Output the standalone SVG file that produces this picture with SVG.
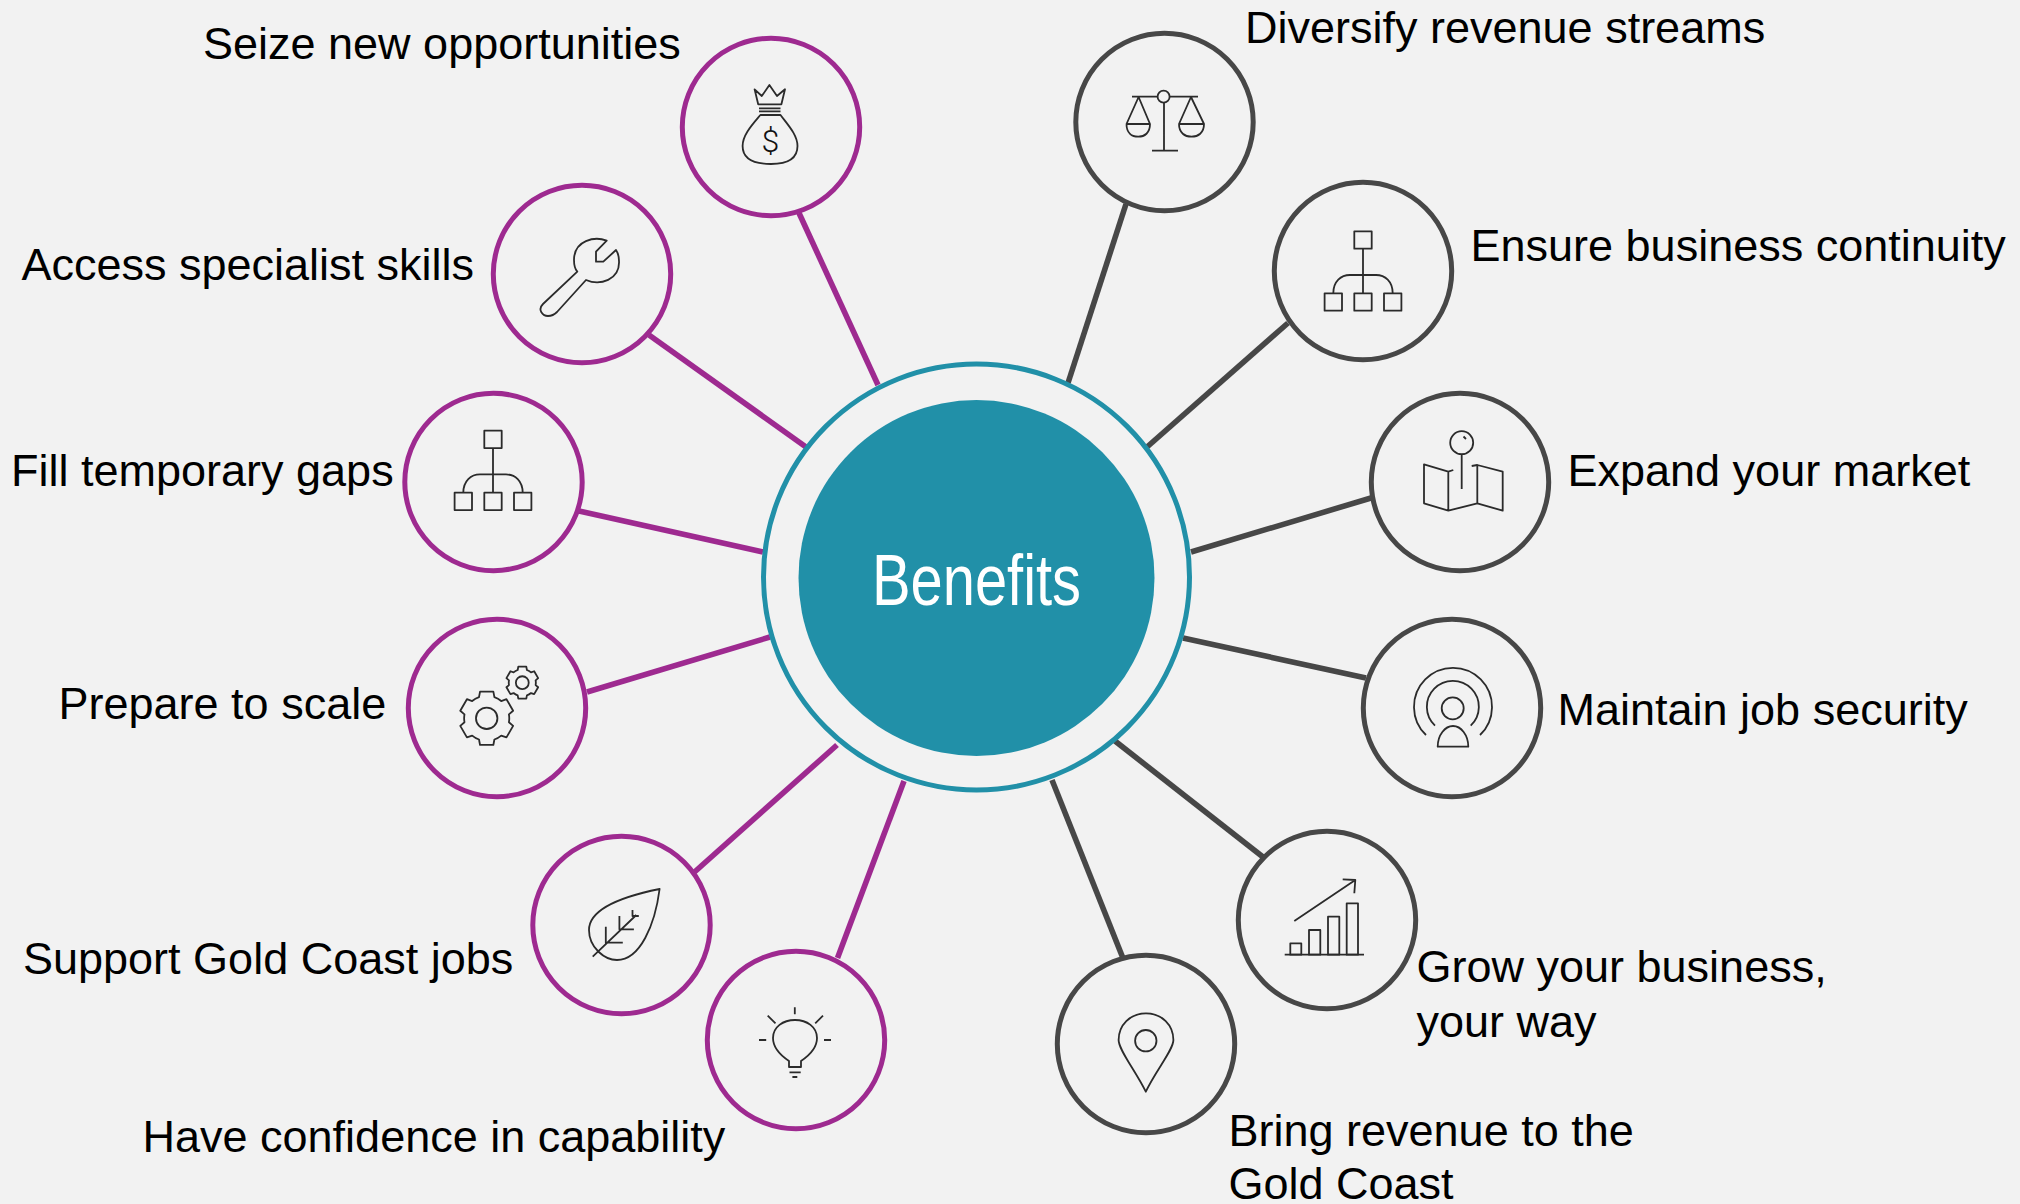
<svg xmlns="http://www.w3.org/2000/svg" xmlns:xlink="http://www.w3.org/1999/xlink" width="2020" height="1204" viewBox="0 0 2020 1204">
<style>
.lbl{font-family:"Liberation Sans",Arial,sans-serif;font-size:45px;fill:#000}
.p{fill:none;stroke:#9E2A90;stroke-width:5}
.g{fill:none;stroke:#474747;stroke-width:5}
#connectors line{stroke-width:5.6}
.ico{fill:none;stroke:#2b2b2b;stroke-width:1.8;stroke-linejoin:round}
.ico *{vector-effect:non-scaling-stroke}
</style>
<defs>
<g id="org"><rect x="-8.7" y="0" width="17.4" height="17.4"/><path d="M0 17.4V62M-29.7 62C-29.7 50-22 43.7-13 43.7H13C22 43.7 29.7 50 29.7 62"/><rect x="-38.4" y="62" width="17.4" height="17.4"/><rect x="-8.7" y="62" width="17.4" height="17.4"/><rect x="21" y="62" width="17.4" height="17.4"/></g>
<g id="gear"><path vector-effect="non-scaling-stroke" d="M-28 -77.1L-24.2 -97L24.2 -97L28 -77.1A82 82 0 0 1 52.8 -62.8L71.9 -69.5L96.1 -27.5L80.8 -14.4A82 82 0 0 1 80.8 14.4L96.1 27.5L71.9 69.5L52.8 62.8A82 82 0 0 1 28 77.1L24.2 97L-24.2 97L-28 77.1A82 82 0 0 1 -52.8 62.8L-71.9 69.5L-96.1 27.5L-80.8 14.4A82 82 0 0 1 -80.8 -14.4L-96.1 -27.5L-71.9 -69.5L-52.8 -62.8A82 82 0 0 1 -28 -77.1Z"/><circle vector-effect="non-scaling-stroke" r="39"/></g>
</defs>
<rect width="2020" height="1204" fill="#F2F2F2"/>
<g id="connectors">
<line class="p" x1="799" y1="213" x2="878" y2="385"/>
<line class="p" x1="649" y1="335" x2="806" y2="447"/>
<line class="p" x1="579" y1="511" x2="763" y2="552"/>
<line class="p" x1="587" y1="692" x2="770" y2="637"/>
<line class="p" x1="694.5" y1="872" x2="837" y2="745"/>
<line class="p" x1="837.5" y1="958" x2="904" y2="781"/>
<line class="g" x1="1126" y1="204" x2="1068" y2="383"/>
<line class="g" x1="1288" y1="323" x2="1147" y2="447"/>
<line class="g" x1="1371" y1="498" x2="1191" y2="552"/>
<line class="g" x1="1366" y1="678" x2="1183" y2="638"/>
<line class="g" x1="1263" y1="857" x2="1115" y2="741"/>
<line class="g" x1="1122.5" y1="957" x2="1052" y2="780"/>
</g>
<g id="benefits">
<circle cx="976.5" cy="577" r="213" fill="none" stroke="#2190A8" stroke-width="5"/>
<circle cx="976.5" cy="578" r="178" fill="#2190A8"/>
<text x="976.5" y="605" text-anchor="middle" font-family="'Liberation Sans',Arial,sans-serif" font-size="72" fill="#fff" textLength="209" lengthAdjust="spacingAndGlyphs">Benefits</text>
</g>
<g id="seize">
<circle class="p" cx="771" cy="127" r="88.7"/>
<g class="ico"><path d="M754.6 89.3L761.8 96L769.4 85L777 96L785 89.3L781.4 104.3H758.2Z"/><path d="M759 108.3H780.5M759 111.3H780.5"/><path d="M760.4 115H780.5C788 125 797.5 135 797.5 146C797.5 158 788 164 771 164C752 164 742.6 158 742.6 146C742.6 135 752 125 760.4 115Z"/></g>
<text x="770.4" y="152" text-anchor="middle" font-family="Roboto,'Liberation Sans',sans-serif" font-weight="300" font-size="32" fill="#111">$</text>
<text class="lbl" x="203" y="59">Seize new opportunities</text>
</g>
<g id="access">
<circle class="p" cx="582" cy="274" r="88.7"/>
<path class="ico" d="M606.7 240.7C595 236 574 240 574 260C574 265 575 269 577.3 271.7L543 304C537 310 543 316 548 316C552 316 554 315 557 312L586 280C600 286 620 280 619 261C619 257 618 253 616 250L603.3 261.7H596V251.7Z"/>
<text class="lbl" x="21.5" y="280">Access specialist skills</text>
</g>
<g id="fill">
<circle class="p" cx="493.5" cy="482" r="88.7"/>
<use class="ico" href="#org" x="493" y="430.7"/>
<text class="lbl" x="11" y="486">Fill temporary gaps</text>
</g>
<g id="prepare">
<circle class="p" cx="497" cy="708" r="88.7"/>
<g class="ico"><use href="#gear" transform="translate(486.7 718.3) scale(.275)"/><use href="#gear" transform="translate(522.3 682.7) scale(.165)"/></g>
<text class="lbl" x="58.5" y="719">Prepare to scale</text>
</g>
<g id="support">
<circle class="p" cx="621.5" cy="925" r="88.7"/>
<g class="ico"><path d="M659.6 889C625 896 589 908 589 930C589 948 605 960 617 960C640 960 655 925 659.6 889Z"/><path d="M592.7 956.7L636.3 915M605.8 926.7V942.7H622.8M619.4 916V929.3H633.9M632.5 910V916H638.8"/></g>
<text class="lbl" x="23" y="974">Support Gold Coast jobs</text>
</g>
<g id="confidence">
<circle class="p" cx="796" cy="1040" r="88.7"/>
<g class="ico"><path d="M789 1061C780 1055 773 1048 773 1038C773 1027 783 1020 795 1020C807 1020 817 1027 817 1038C817 1048 810 1055 801 1061V1067H789Z"/><path d="M794.8 1007.3V1014.3M767.7 1015.7L775.5 1023.3M823 1015.7L815.2 1023.3M759 1040H766.2M824 1040H831M789.5 1072.3H800.7M792.4 1077H797.3"/></g>
<text class="lbl" x="142.5" y="1152">Have confidence in capability</text>
</g>
<g id="diversify">
<circle class="g" cx="1164.5" cy="122" r="88.7"/>
<g class="ico"><path d="M1132 96.7H1157.6M1169.6 96.7H1198M1164 103V150.7M1152 150.7H1178M1138.6 97L1126.5 124H1150ZM1191 97L1179 124H1204ZM1126.5 124C1126.5 133 1132 136.7 1138.3 136.7C1144.5 136.7 1150 133 1150 124M1179 124C1179 133 1185 136.7 1191.5 136.7C1198 136.7 1204 133 1204 124"/><circle cx="1163.6" cy="96.7" r="6"/></g>
<text class="lbl" x="1245" y="43">Diversify revenue streams</text>
</g>
<g id="ensure">
<circle class="g" cx="1363" cy="271" r="88.7"/>
<use class="ico" href="#org" x="1363" y="231.3"/>
<text class="lbl" x="1470.5" y="261">Ensure business continuity</text>
</g>
<g id="expand">
<circle class="g" cx="1460" cy="482" r="88.7"/>
<g class="ico"><circle cx="1461.7" cy="442.7" r="11.5"/><path d="M1461.7 454V489M1453.3 470L1448.3 471.7L1424 464.3V503.3L1448.3 510.7V471.7M1448.3 510.7L1477.3 503.3V465L1502.7 471.7V510.7L1477.3 503.3M1471.7 466L1477.3 465M1463.5 436.5L1466 439"/></g>
<text class="lbl" x="1567.5" y="486">Expand your market</text>
</g>
<g id="maintain">
<circle class="g" cx="1452" cy="708" r="88.7"/>
<g class="ico"><circle cx="1452.7" cy="708.3" r="11"/><path d="M1437.7 746.7H1468.3C1468.3 735 1461 726 1453 726C1445 726 1437.7 735 1437.7 746.7Z"/><path d="M1426 735A39 39 0 1 1 1480 735M1435 725.7A26 26 0 1 1 1470.7 725.7"/></g>
<text class="lbl" x="1557.5" y="725">Maintain job security</text>
</g>
<g id="grow">
<circle class="g" cx="1327" cy="920" r="88.7"/>
<g class="ico"><path d="M1284.7 954.7H1364M1294.3 921L1355.3 880M1342.7 879.3L1355.3 880L1354.3 893.3"/><rect x="1290.3" y="943.3" width="11" height="11.4"/><rect x="1309" y="930" width="11.3" height="24.7"/><rect x="1328" y="916.7" width="11.3" height="38"/><rect x="1346.7" y="903.3" width="11.3" height="51.4"/></g>
<text class="lbl" x="1416.5" y="982">Grow your business,</text>
<text class="lbl" x="1416.5" y="1037">your way</text>
</g>
<g id="bring">
<circle class="g" cx="1146" cy="1044" r="88.7"/>
<g class="ico"><path d="M1145.8 1091.7C1135 1070 1118.6 1050 1118.6 1040C1118.6 1025 1130 1013.3 1146 1013.3C1162 1013.3 1173.4 1025 1173.4 1040C1173.4 1050 1156 1070 1145.8 1091.7Z"/><circle cx="1145.8" cy="1040.7" r="10.7"/></g>
<text class="lbl" x="1228.5" y="1146">Bring revenue to the</text>
<text class="lbl" x="1228.5" y="1199">Gold Coast</text>
</g>
</svg>
